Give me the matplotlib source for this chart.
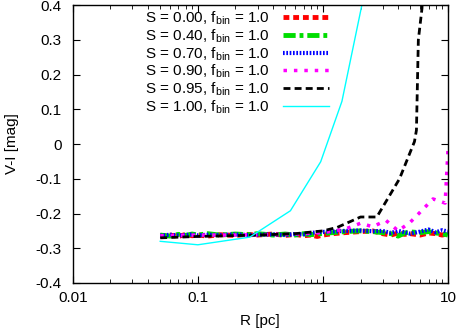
import matplotlib
matplotlib.use("Agg")
import matplotlib.pyplot as plt
from matplotlib.ticker import FixedLocator, NullFormatter

plt.rcParams['font.family'] = ['Liberation Sans', 'DejaVu Sans']
plt.rcParams['mathtext.fontset'] = 'custom'
plt.rcParams['mathtext.rm'] = 'Liberation Sans'

# radii for the noisy near-flat series
R_fine = [0.05, 0.06, 0.07, 0.08, 0.09, 0.10, 0.12, 0.15, 0.20, 0.25, 0.30, 0.40, 0.50,
          0.60, 0.70, 0.80, 0.90, 1.00, 1.20, 1.50, 2.00, 2.50, 3.00, 3.50, 4.00, 4.50,
          5.00, 6.00, 7.00, 8.00, 9.00, 10.0]
vi_s000 = [-0.265, -0.262, -0.266, -0.260, -0.264, -0.262, -0.265, -0.261, -0.263, -0.260,
           -0.262, -0.259, -0.263, -0.260, -0.264, -0.262, -0.266, -0.262, -0.258, -0.255,
           -0.252, -0.250, -0.258, -0.262, -0.256, -0.260, -0.258, -0.262, -0.256, -0.258,
           -0.262, -0.258]
vi_s040 = [-0.262, -0.265, -0.260, -0.263, -0.259, -0.262, -0.258, -0.262, -0.259, -0.261,
           -0.258, -0.262, -0.259, -0.262, -0.258, -0.261, -0.259, -0.257, -0.255, -0.252,
           -0.250, -0.252, -0.255, -0.258, -0.265, -0.256, -0.253, -0.255, -0.252, -0.256,
           -0.258, -0.262]
vi_s070 = [-0.264, -0.261, -0.263, -0.262, -0.260, -0.263, -0.261, -0.262, -0.260, -0.262,
           -0.261, -0.260, -0.262, -0.259, -0.260, -0.256, -0.254, -0.253, -0.252, -0.250,
           -0.249, -0.251, -0.250, -0.256, -0.250, -0.254, -0.258, -0.252, -0.246, -0.254,
           -0.248, -0.252]
R_s090 = [0.05, 0.10, 0.20, 0.30, 0.50, 0.70, 1.00, 1.50, 2.00, 2.50, 3.20, 4.00, 5.00,
          6.00, 7.60, 9.50, 10.0]
vi_s090 = [-0.264, -0.262, -0.262, -0.261, -0.260, -0.258, -0.255, -0.245, -0.228, -0.238,
           -0.220, -0.250, -0.225, -0.196, -0.158, -0.170, -0.020]
R_s095 = [0.05, 0.10, 0.30, 0.60, 1.00, 1.30, 2.00, 2.70, 4.10, 5.40, 5.60, 5.80, 6.20, 6.60]
vi_s095 = [-0.270, -0.266, -0.262, -0.258, -0.250, -0.240, -0.210, -0.210, -0.100, 0.007,
           0.040, 0.300, 0.390, 0.600]
R_s100 = [0.05, 0.10, 0.26, 0.55, 0.96, 1.42, 2.50]
vi_s100 = [-0.280, -0.290, -0.268, -0.192, -0.051, 0.123, 0.550]

labels = ["S = 0.00, f$_{\\rm bin}$ = 1.0", "S = 0.40, f$_{\\rm bin}$ = 1.0",
          "S = 0.70, f$_{\\rm bin}$ = 1.0", "S = 0.90, f$_{\\rm bin}$ = 1.0",
          "S = 0.95, f$_{\\rm bin}$ = 1.0", "S = 1.00, f$_{\\rm bin}$ = 1.0"]
yticks = [-0.4, -0.3, -0.2, -0.1, 0, 0.1, 0.2, 0.3, 0.4]
yticklabels = ["-0.4", "-0.3", "-0.2", "-0.1", "0", "0.1", "0.2", "0.3", "0.4"]
xticks = [0.01, 0.1, 1, 10]
xticklabels = ["0.01", "0.1", "1", "10"]

FS = 11

fig = plt.figure(figsize=(4.58, 3.32), dpi=100)
ax = fig.add_axes([0.159, 0.1476, 0.819, 0.837])

ax.plot(R_fine, vi_s000, color='red', lw=3.5, dashes=(1.2, 0.8), label=labels[0])
ax.plot(R_fine, vi_s040, color='#00dd00', lw=3.5, dashes=(2.5, 0.8, 0.8, 0.8), label=labels[1])
ax.plot(R_fine, vi_s070, color='blue', lw=3.0, dashes=(0.4, 0.4), label=labels[2])
ax.plot(R_s090, vi_s090, color='magenta', lw=2.5, dashes=(1, 2), label=labels[3])
ax.plot(R_s095, vi_s095, color='black', lw=2.0, dashes=(2.5, 1.5), label=labels[4])
ax.plot(R_s100, vi_s100, color='cyan', lw=1.0, label=labels[5])

ax.set_xscale('log')
ax.set_xlim(0.01, 10)
ax.set_ylim(-0.4, 0.4)
ax.set_xticks(xticks)
ax.set_xticklabels(xticklabels)
ax.set_yticks(yticks)
ax.set_yticklabels(yticklabels)
minors = [m * 10.0 ** e for e in (-2, -1, 0) for m in range(2, 10)]
ax.xaxis.set_minor_locator(FixedLocator(minors))
ax.xaxis.set_minor_formatter(NullFormatter())
ax.tick_params(which='both', direction='in', top=True, right=True, labelsize=FS)
ax.tick_params(which='major', length=5)
ax.tick_params(which='minor', length=3)
ax.tick_params(axis='y', which='major', pad=8)
ax.tick_params(axis='x', which='major', pad=6)
for s in ax.spines.values():
    s.set_linewidth(1.0)

ax.set_xlabel("R [pc]", fontsize=FS, labelpad=6)
ax.set_ylabel("V-I [mag]", fontsize=FS, labelpad=12)

ax.legend(loc='upper left', bbox_to_anchor=(0.184, 0.995), frameon=False, markerfirst=False,
          fontsize=FS, handlelength=3.0, handletextpad=0.85, labelspacing=0.0,
          borderaxespad=0, borderpad=0.2)

fig.savefig("out.png", dpi=100)
